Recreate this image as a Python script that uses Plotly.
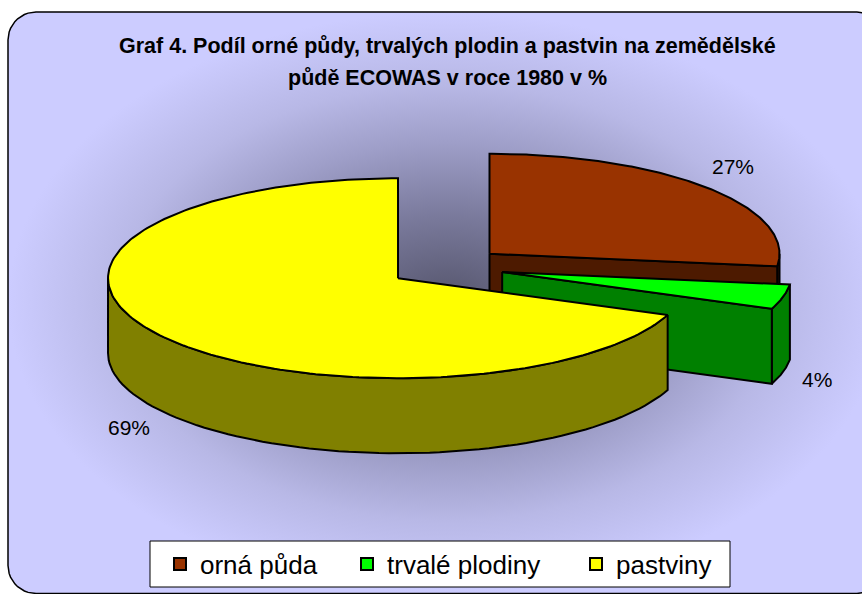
import numpy as np
import plotly.graph_objects as go

# ---- data ----
categories = ["orná půda", "trvalé plodiny", "pastviny"]
values = [27, 4, 69]
title_lines = ["Graf 4. Podíl orné půdy, trvalých plodin a pastvin na zemědělské",
               "půdě ECOWAS v roce 1980 v %"]

# ---- style ----
top_colors = ["#993300", "#00FF00", "#FFFF00"]
side_colors = ["#4D1A00", "#008000", "#808000"]
legend_widths = [142, 184, 100]
W, H = 862, 594
CX, CY = 446, 267          # pie centre (pixel space)
RX, RY = 290, 100          # ellipse radii of the top face
DEPTH = 75                 # thickness of the pie
EXPLODE = 0.2
FONT = "Liberation Sans, Arial, sans-serif"

fig = go.Figure()

# ---- rounded background frame with gradient ----
def rounded_rect(x0, y0, x1, y1, r, n=12):
    xs, ys = [], []
    corners = [(x1 - r, y0 + r, -90, 0), (x1 - r, y1 - r, 0, 90),
               (x0 + r, y1 - r, 90, 180), (x0 + r, y0 + r, 180, 270)]
    for cx, cy, a0, a1 in corners:
        t = np.radians(np.linspace(a0, a1, n))
        xs += list(cx + r * np.cos(t))
        ys += list(cy + r * np.sin(t))
    xs.append(xs[0]); ys.append(ys[0])
    return xs, ys

bx, by = rounded_rect(8, 12, 885, 593.5, 28)
fig.add_trace(go.Scatter(
    x=bx, y=by, mode="lines", fill="toself",
    line=dict(color="black", width=1.5),
    fillgradient=dict(type="radial",
                      colorscale=[[0, "#55556c"], [0.3, "#7a7a9c"], [0.55, "#9e9ec8"],
                                  [0.75, "#b8b8e6"], [1, "#ccccff"]]),
    hoverinfo="skip", showlegend=False))

# ---- 3D exploded pie ----
total = float(sum(values))
def pt(cx, cy, deg):
    t = np.radians(deg)
    return cx + RX * np.sin(t), cy - RY * np.cos(t)

def poly(xs, ys, color):
    xs = list(xs) + [xs[0]]
    ys = list(ys) + [ys[0]]
    fig.add_trace(go.Scatter(x=xs, y=ys, mode="lines", fill="toself",
                             fillcolor=color, line=dict(color="black", width=2),
                             hoverinfo="skip", showlegend=False))

start = 0.0
label_pos = []
for i, v in enumerate(values):
    a0 = start
    a1 = start + 360.0 * v / total
    start = a1
    mid = np.radians((a0 + a1) / 2)
    cx = CX + EXPLODE * RX * np.sin(mid)
    cy = CY - EXPLODE * RY * np.cos(mid)

    # outer curved side (front half only)
    s, e = max(a0, 90.0), min(a1, 270.0)
    if e > s:
        th = np.linspace(s, e, 80)
        tx, ty = pt(cx, cy, th)
        xs = list(tx) + list(tx[::-1])
        ys = list(ty) + list((ty + DEPTH)[::-1])
        poly(xs, ys, side_colors[i])
    # radial faces facing the viewer
    for ang, vis in ((a1, np.sin(np.radians(a1)) > 1e-6),
                     (a0, np.sin(np.radians(a0)) < -1e-6)):
        if vis:
            ex, ey = pt(cx, cy, ang)
            poly([cx, ex, ex, cx], [cy, ey, ey + DEPTH, cy + DEPTH], side_colors[i])
    # top face
    th = np.linspace(a0, a1, 200)
    tx, ty = pt(cx, cy, th)
    poly([cx] + list(tx), [cy] + list(ty), top_colors[i])

    lx = cx + 1.12 * RX * np.sin(mid)
    ly = cy - 1.32 * RY * np.cos(mid) + (DEPTH if np.cos(mid) < 0 else 0)
    label_pos.append((lx, ly, f"{v / total * 100:.0f}%"))

for lx, ly, txt in label_pos:
    fig.add_annotation(x=lx, y=ly, text=txt, showarrow=False,
                       font=dict(family=FONT, size=21, color="black"))

# ---- legend entries ----
for name, col, lw in zip(categories, top_colors, legend_widths):
    fig.add_trace(go.Scatter(x=[None], y=[None], mode="markers", name=name,
                             legendwidth=lw,
                             marker=dict(symbol="square", size=14, color=col,
                                         line=dict(color="black", width=2))))

# legend box
fig.add_shape(type="rect", x0=150, x1=730, y0=541, y1=587, xref="x", yref="y",
              fillcolor="white", line=dict(color="black", width=1), layer="above")

# ---- title ----
fig.add_annotation(x=447.5, y=46, text="<b>" + title_lines[0] + "</b>", showarrow=False,
                   font=dict(family=FONT, size=21.5, color="black"))
fig.add_annotation(x=447.5, y=78, text="<b>" + title_lines[1] + "</b>", showarrow=False,
                   font=dict(family=FONT, size=21.5, color="black"))

fig.update_layout(
    width=W, height=H, margin=dict(l=0, r=0, t=0, b=0),
    paper_bgcolor="white", plot_bgcolor="rgba(0,0,0,0)",
    xaxis=dict(range=[0, W], visible=False, fixedrange=True),
    yaxis=dict(range=[H, 0], visible=False, fixedrange=True),
    showlegend=True,
    legend=dict(orientation="h", x=160 / W, xanchor="left", y=(H - 564) / H, yanchor="middle",
                bgcolor="rgba(0,0,0,0)", borderwidth=0,
                font=dict(family=FONT, size=26, color="black"),
                itemsizing="constant"),
)

fig.write_html("out.html", config={"displayModeBar": False},
               post_script="document.body.style.margin='0';")
